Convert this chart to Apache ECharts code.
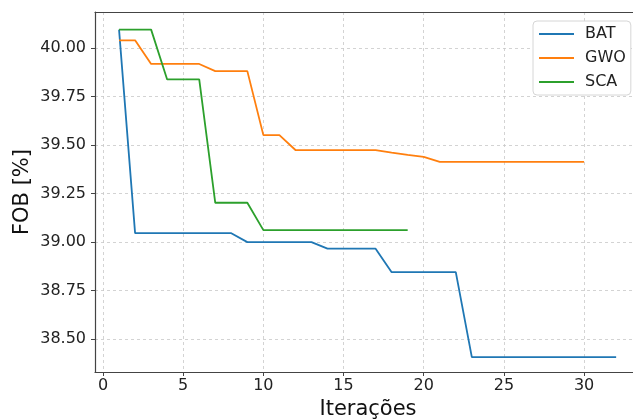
<!DOCTYPE html>
<html>
<head>
<meta charset="utf-8">
<script src="https://cdn.jsdelivr.net/npm/echarts@6/dist/echarts.min.js"></script>
<style>html,body{margin:0;padding:0;background:#fff;}#c{width:633px;height:419px;}</style>
</head>
<body>
<div id="c"></div>
<script>
const seriesNames = ['BAT', 'GWO', 'SCA'];
const batX = [1,2,3,4,5,6,7,8,9,10,11,12,13,14,15,16,17,18,19,20,21,22,23,24,25,26,27,28,29,30,31,32];
const batY = [40.096,39.046,39.046,39.046,39.046,39.046,39.046,39.046,39.0,39.0,39.0,39.0,39.0,38.966,38.966,38.966,38.966,38.845,38.845,38.845,38.845,38.845,38.407,38.407,38.407,38.407,38.407,38.407,38.407,38.407,38.407,38.407];
const gwoX = [1,2,3,4,5,6,7,8,9,10,11,12,13,14,15,16,17,18,19,20,21,22,23,24,25,26,27,28,29,30];
const gwoY = [40.041,40.041,39.919,39.919,39.919,39.919,39.882,39.882,39.882,39.552,39.552,39.475,39.475,39.475,39.475,39.475,39.475,39.462,39.450,39.440,39.414,39.414,39.414,39.414,39.414,39.414,39.414,39.414,39.414,39.414];
const scaX = [1,2,3,4,5,6,7,8,9,10,11,12,13,14,15,16,17,18,19];
const scaY = [40.096,40.096,40.096,39.839,39.839,39.839,39.203,39.203,39.203,39.062,39.062,39.062,39.062,39.062,39.062,39.062,39.062,39.062,39.062];
const xTicks = [0,5,10,15,20,25,30];
const yTicks = [38.5,38.75,39.0,39.25,39.5,39.75,40.0];
const colors = ['#1f77b4', '#ff7f0e', '#2ca02c'];

const pair = (xs, ys) => xs.map((x, i) => [x, ys[i]]);
const font = 'DejaVu Sans';
const chart = echarts.init(document.getElementById('c'), null, {renderer: 'canvas'});
chart.setOption({
  animation: false,
  backgroundColor: '#fff',
  textStyle: {fontFamily: font},
  grid: {left: 95, top: 12, width: 546, height: 360, outerBoundsMode: 'none', containLabel: false, show: false},
  legend: {
    left: 533, top: 21,
    orient: 'vertical',
    data: seriesNames,
    backgroundColor: '#fff',
    borderColor: '#d6d6d6', borderWidth: 1, borderRadius: 4,
    padding: [5, 5, 5, 6],
    itemWidth: 35, itemHeight: 2, itemGap: 8,
    icon: 'rect',
    textStyle: {fontFamily: font, fontSize: 16, color: '#222', padding: [0,0,0,6]}
  },
  xAxis: [{
    type: 'value', min: -0.5, max: 33.55, position: 'bottom',
    name: 'Iterações', nameLocation: 'middle', nameGap: 27, nameMoveOverlap: false,
    nameTextStyle: {fontFamily: font, fontSize: 21, color: '#111'},
    axisLine: {show: true, onZero: false, lineStyle: {color: '#444', width: 1.2}},
    axisTick: {show: true, inside: false, length: 4, lineStyle: {color: '#444'}, customValues: xTicks},
    axisLabel: {customValues: xTicks, fontFamily: font, fontSize: 16, color: '#222', margin: 6},
    splitLine: {show: true, lineStyle: {color: '#c8c8c8', type: [3, 3], width: 0.8}}
  }, {
    type: 'value', min: -0.5, max: 33.55, position: 'top',
    axisLine: {show: true, onZero: false, lineStyle: {color: '#444', width: 1.2}},
    axisTick: {show: false}, axisLabel: {show: false}, splitLine: {show: false}
  }],
  yAxis: {
    type: 'value', min: 38.33, max: 40.187,
    name: 'FOB [%]', nameLocation: 'middle', nameGap: 62, nameRotate: 90, nameMoveOverlap: false,
    nameTextStyle: {fontFamily: font, fontSize: 21, color: '#111'},
    axisLine: {show: true, onZero: false, lineStyle: {color: '#444', width: 1.2}},
    axisTick: {show: true, inside: false, length: 4, lineStyle: {color: '#444'}, customValues: yTicks},
    axisLabel: {customValues: yTicks, fontFamily: font, fontSize: 16, color: '#222', margin: 9, formatter: v => v.toFixed(2)},
    splitLine: {show: true, lineStyle: {color: '#c8c8c8', type: [3, 3], width: 0.8}}
  },
  series: [
    {name: 'BAT', type: 'line', data: pair(batX, batY), showSymbol: false, symbol: 'none', lineStyle: {color: colors[0], width: 1.8}, itemStyle: {color: colors[0]}},
    {name: 'GWO', type: 'line', data: pair(gwoX, gwoY), showSymbol: false, symbol: 'none', lineStyle: {color: colors[1], width: 1.8}, itemStyle: {color: colors[1]}},
    {name: 'SCA', type: 'line', data: pair(scaX, scaY), showSymbol: false, symbol: 'none', lineStyle: {color: colors[2], width: 1.8}, itemStyle: {color: colors[2]}}
  ]
});
</script>
</body>
</html>
